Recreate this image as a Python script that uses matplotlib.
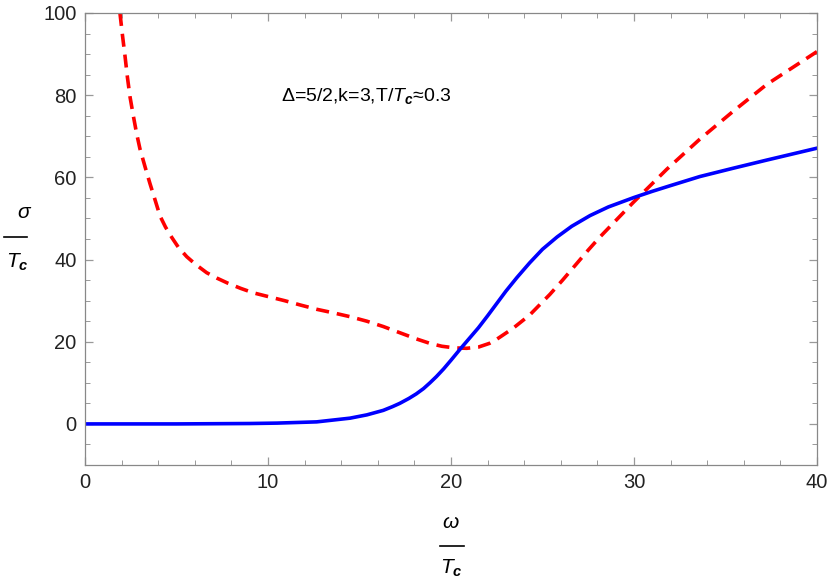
import matplotlib
matplotlib.use("Agg")
import matplotlib.pyplot as plt
from matplotlib.lines import Line2D
from matplotlib.ticker import MultipleLocator

plt.rcParams['font.family'] = ['Liberation Sans', 'DejaVu Sans']
plt.rcParams['mathtext.fontset'] = 'custom'
plt.rcParams['mathtext.rm'] = 'Liberation Sans'
plt.rcParams['mathtext.it'] = 'Liberation Sans:italic'
plt.rcParams['mathtext.bf'] = 'Liberation Sans:italic:bold'

# BLUE CURVE (solid)
blue_x = [0, 5, 9, 10.5, 12.66, 14.48, 15.4, 16.3, 16.8, 17.2, 17.7, 18.1, 18.5, 18.85,
          19.2, 19.6, 20.0, 20.5, 21.0, 21.5, 22.0, 22.5, 23.0, 23.6, 24.3, 25.0, 25.8,
          26.6, 27.6, 28.6, 30, 31, 32, 33.6, 35.4, 37.25, 40]
blue_y = [0, 0, 0.1, 0.2, 0.5, 1.4, 2.2, 3.3, 4.2, 5.0, 6.2, 7.3, 8.6, 10.0,
          11.5, 13.4, 15.5, 18.2, 20.8, 23.4, 26.3, 29.3, 32.3, 35.6, 39.2, 42.5, 45.5,
          48.1, 50.7, 52.8, 55.1, 56.6, 58.0, 60.2, 62.2, 64.2, 67.1]

# RED CURVE (dashed)
red_x = [1.91, 2.05, 2.19, 2.32, 2.46, 2.64, 2.82, 3.0, 3.28, 3.55, 3.83, 4.1, 4.4,
         4.74, 5.1, 5.56, 6.05, 6.65, 7.2, 7.83, 8.5, 9.2, 10.0, 10.9, 11.8, 12.66,
         13.6, 14.48, 15.4, 16.3, 17.2, 18.1, 18.85, 19.5, 20.2, 20.86, 21.5, 22.1,
         22.5, 23.4, 24.3, 25.4, 26.1, 27.5, 28.1, 29.96, 31.8, 33.6, 35.4, 37.25, 40]
red_y = [100, 94.5, 89.4, 84.3, 79.6, 75.0, 70.7, 67.0, 62.6, 58.5, 54.5, 50.6, 47.9,
         45.4, 43.0, 40.7, 38.8, 36.8, 35.5, 34.2, 33.0, 31.9, 31.0, 30.0, 28.9, 27.9,
         27.0, 26.1, 25.0, 23.7, 22.2, 20.7, 19.6, 18.9, 18.5, 18.4, 18.7, 19.6,
         20.6, 23.3, 26.5, 31.5, 35.0, 42.3, 45.3, 53.9, 62.0, 69.3, 76.0, 82.6, 90.6]

fig = plt.figure(figsize=(8.3, 5.85), dpi=100)
ax = fig.add_axes([0.1024, 0.2051, 0.8819, 0.7727])

ax.plot(red_x, red_y, color='#ff0000', lw=2.6, ls=(0, (3.6, 2.2)))
ax.plot(blue_x, blue_y, color='#0000ff', lw=2.6)

ax.set_xlim(0, 40)
ax.set_ylim(-10, 100)
ax.xaxis.set_major_locator(MultipleLocator(10))
ax.xaxis.set_minor_locator(MultipleLocator(2))
ax.yaxis.set_major_locator(MultipleLocator(20))
ax.yaxis.set_minor_locator(MultipleLocator(5))

for s in ax.spines.values():
    s.set_color('#888888')
    s.set_linewidth(0.9)
ax.tick_params(which='both', direction='in', top=True, right=True,
               color='#999999', labelsize=14.5, labelcolor='#222222')
ax.tick_params(which='major', length=6, width=0.9, pad=6)
ax.tick_params(which='minor', length=3.5, width=0.7)

ax.text(0.384, 0.816, r'Δ=5/2,k=3,T/$T_\mathbf{c}$≈0.3', transform=ax.transAxes,
        ha='center', va='center', fontsize=14)

# Y LABEL AS FRACTION
fig.text(25 / 830, 1 - 213 / 585, r'$\sigma$', ha='center', va='center', fontsize=15)
fig.add_artist(Line2D([4 / 830, 27 / 830], [1 - 237 / 585, 1 - 237 / 585],
                      color='black', lw=1.2))
fig.text(17 / 830, 1 - 262 / 585, r'$T_\mathbf{c}$', ha='center', va='center', fontsize=15)

# X LABEL AS FRACTION
fig.text(451 / 830, 1 - 523 / 585, r'$\omega$', ha='center', va='center', fontsize=15)
fig.add_artist(Line2D([440 / 830, 464 / 830], [1 - 546 / 585, 1 - 546 / 585],
                      color='black', lw=1.2))
fig.text(451 / 830, 1 - 568 / 585, r'$T_\mathbf{c}$', ha='center', va='center', fontsize=15)

plt.savefig('out.png', dpi=100)
